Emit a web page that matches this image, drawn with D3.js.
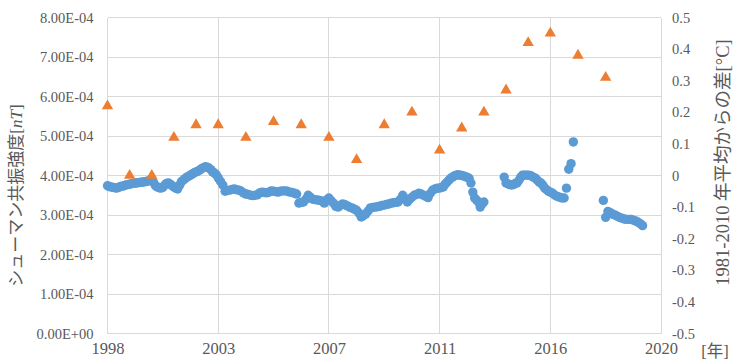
<!DOCTYPE html>
<html>
<head>
<meta charset="utf-8">
<script src="https://cdn.jsdelivr.net/npm/d3@7"></script>
<style>
  html, body { margin: 0; padding: 0; background: #ffffff; }
  svg { display: block; }
  svg text { fill: #595959; font-family: "Liberation Serif", "Noto Sans CJK JP", serif; }
</style>
</head>
<body>
<svg id="chart" width="735" height="361"></svg>
<script>
// Tick years shown on the bottom axis (evenly spaced labels)
const xTickYears = [1998, 2003, 2007, 2011, 2016, 2020];

// Left axis: Schumann resonance intensity, ticks in nT
const leftTicks = [0, 1e-4, 2e-4, 3e-4, 4e-4, 5e-4, 6e-4, 7e-4, 8e-4];
// Right axis: temperature anomaly from the 1981-2010 mean, °C
const rightTicks = [-0.5, -0.4, -0.3, -0.2, -0.1, 0, 0.1, 0.2, 0.3, 0.4, 0.5];

// Annual temperature anomaly (°C)
const tempYears = [1998, 1999, 2000, 2001, 2002, 2003, 2004, 2005, 2006, 2007,
                   2008, 2009, 2010, 2011, 2012, 2013, 2014, 2015, 2016, 2017, 2018];
const tempAnomaly = [0.22, 0.00, 0.00, 0.12, 0.16, 0.16, 0.12, 0.17, 0.16, 0.12,
                     0.05, 0.16, 0.20, 0.08, 0.15, 0.20, 0.27, 0.42, 0.45, 0.38, 0.31];

// Monthly Schumann resonance intensity, in units of 1e-4 nT.
// Record 1: Jan 1998 - Jan 2013
const srStart1 = [1998, 1];
const srValues1 = [
  3.74, 3.72, 3.71, 3.70, 3.69, 3.68, 3.70, 3.72, 3.73, 3.74, 3.76, 3.77, // 1998
  3.78, 3.79, 3.80, 3.81, 3.81, 3.82, 3.83, 3.83, 3.84, 3.85, 3.86, 3.87, // 1999
  3.88, 3.82, 3.74, 3.71, 3.69, 3.68, 3.70, 3.76, 3.80, 3.81, 3.78, 3.74, // 2000
  3.71, 3.68, 3.66, 3.75, 3.84, 3.88, 3.92, 3.96, 3.98, 4.01, 4.04, 4.07, // 2001
  4.09, 4.11, 4.14, 4.17, 4.20, 4.22, 4.21, 4.19, 4.15, 4.09, 4.06, 4.02, // 2002
  3.94, 3.85, 3.76, 3.60, 3.62, 3.63, 3.65, 3.66, 3.64, 3.63, 3.60, 3.56, // 2003
  3.53, 3.52, 3.50, 3.49, 3.50, 3.51, 3.56, 3.58, 3.57, 3.56, 3.58, 3.61, // 2004
  3.60, 3.59, 3.58, 3.60, 3.61, 3.61, 3.60, 3.58, 3.57, 3.55, 3.53, 3.30, // 2005
  3.32, 3.33, 3.40, 3.50, 3.45, 3.40, 3.39, 3.38, 3.37, 3.35, 3.30, 3.38, // 2006
  3.43, 3.36, 3.30, 3.22, 3.20, 3.24, 3.28, 3.26, 3.23, 3.20, 3.18, 3.15, // 2007
  3.12, 3.05, 2.95, 2.98, 3.03, 3.10, 3.18, 3.19, 3.20, 3.21, 3.22, 3.24, // 2008
  3.25, 3.27, 3.28, 3.30, 3.31, 3.32, 3.33, 3.40, 3.50, 3.42, 3.33, 3.40, // 2009
  3.45, 3.50, 3.52, 3.55, 3.53, 3.50, 3.47, 3.44, 3.55, 3.63, 3.66, 3.68, // 2010
  3.68, 3.70, 3.71, 3.78, 3.83, 3.88, 3.93, 3.96, 3.99, 4.01, 4.02, 4.01, // 2011
  4.00, 3.99, 3.97, 3.95, 3.93, 3.81, 3.58, 3.43, 3.38, 3.33, 3.20, 3.28, // 2012
  3.33                                                                    // 2013
];
// Record 2: Dec 2013 - Nov 2016
const srStart2 = [2013, 12];
const srValues2 = [
  3.96,                                                                   // 2013
  3.81, 3.79, 3.77, 3.76, 3.77, 3.80, 3.81, 3.88, 3.96, 4.01, 4.01, 4.01, // 2014
  4.01, 4.00, 3.98, 3.95, 3.93, 3.88, 3.83, 3.81, 3.75, 3.68, 3.64, 3.60, // 2015
  3.58, 3.55, 3.50, 3.47, 3.45, 3.43, 3.43, 3.68, 4.16, 4.30, 4.85        // 2016
];
// Record 3: Dec 2017 - May 2019
const srStart3 = [2017, 12];
const srValues3 = [
  3.37,                                                                   // 2017
  2.94, 3.09, 3.06, 3.02, 3.00, 2.97, 2.94, 2.92, 2.90, 2.89, 2.89, 2.89, // 2018
  2.87, 2.85, 2.82, 2.78, 2.73                                            // 2019
];

const UNIT = 1e-4;

function monthly(start, values) {
  return values.map((v, i) => ({
    t: start[0] + (start[1] - 1 + i) / 12,
    v: v * UNIT
  }));
}
const srPoints = [
  ...monthly(srStart1, srValues1),
  ...monthly(srStart2, srValues2),
  ...monthly(srStart3, srValues3)
];
const tempPoints = tempYears.map((y, i) => ({ t: y, v: tempAnomaly[i] }));

// Plot area
const plotL = 107.5, plotR = 661, plotT = 17.5, plotB = 333.5;

const svg = d3.select("#chart");

// The bottom axis places its labelled years at equal spacing
const x = d3.scaleLinear()
  .domain(xTickYears)
  .range(xTickYears.map((_, i) => plotL + (plotR - plotL) * i / (xTickYears.length - 1)));
const yL = d3.scaleLinear().domain([0, 8e-4]).range([plotB, plotT]);
const yR = d3.scaleLinear().domain([-0.5, 0.5]).range([plotB, plotT]);

function sciLabel(d) {
  if (d === 0) return "0.00E+00";
  const [m, e] = d.toExponential(2).split("e");
  const n = parseInt(e, 10);
  return m + "E" + (n < 0 ? "-" : "+") + String(Math.abs(n)).padStart(2, "0");
}
function plainLabel(d) {
  return String(+d.toFixed(1));
}

// Grid
const grid = svg.append("g").attr("stroke", "#d9d9d9").attr("stroke-width", 1).attr("shape-rendering", "crispEdges");
grid.selectAll("line.h").data(leftTicks).join("line")
  .attr("class", "h")
  .attr("x1", plotL).attr("x2", plotR)
  .attr("y1", d => yL(d)).attr("y2", d => yL(d));
grid.selectAll("line.v").data(xTickYears).join("line")
  .attr("class", "v")
  .attr("x1", d => x(d)).attr("x2", d => x(d))
  .attr("y1", plotT).attr("y2", plotB);

function styleAxis(g, size) {
  g.attr("font-family", null);
  g.select(".domain").remove();
  g.selectAll("text").style("font-size", size + "px").attr("fill", "#595959");
}

// Left axis
svg.append("g")
  .attr("transform", `translate(${plotL},0)`)
  .call(d3.axisLeft(yL).tickValues(leftTicks).tickFormat(sciLabel).tickSize(0).tickPadding(14))
  .call(styleAxis, 14.5);

// Right axis
svg.append("g")
  .attr("transform", `translate(${plotR},0)`)
  .call(d3.axisRight(yR).tickValues(rightTicks).tickFormat(plainLabel).tickSize(0).tickPadding(11))
  .call(styleAxis, 14.5);

// Bottom axis
svg.append("g")
  .attr("transform", `translate(0,${plotB})`)
  .call(d3.axisBottom(x).tickValues(xTickYears).tickFormat(d3.format("d")).tickSize(0).tickPadding(9))
  .call(styleAxis, 16.5);

// Axis titles
const leftTitle = svg.append("text")
  .attr("transform", `translate(22,${(plotT + plotB) / 2 + 20}) rotate(-90)`)
  .attr("text-anchor", "middle")
  .style("font-size", "17px");
leftTitle.append("tspan").text("シューマン共振強度[");
leftTitle.append("tspan").style("font-style", "italic").text("nT");
leftTitle.append("tspan").text("]");

svg.append("text")
  .attr("transform", `translate(729,${(plotT + plotB) / 2 - 13}) rotate(-90)`)
  .attr("text-anchor", "middle")
  .style("font-size", "18.5px")
  .text("1981-2010 年平均からの差[°C]");

svg.append("text")
  .attr("x", 715).attr("y", 357)
  .attr("text-anchor", "middle")
  .style("font-size", "16.5px")
  .text("[年]");

// Schumann resonance intensity markers
svg.append("g").selectAll("circle").data(srPoints).join("circle")
  .attr("cx", d => x(d.t))
  .attr("cy", d => yL(d.v))
  .attr("r", 4.7)
  .attr("fill", "#5b9bd5");

// Temperature anomaly markers
svg.append("g").selectAll("path").data(tempPoints).join("path")
  .attr("transform", d => `translate(${x(d.t)},${yR(d.v)})`)
  .attr("d", d3.symbol(d3.symbolTriangle, 56))
  .attr("fill", "#ed7d31");
</script>
</body>
</html>
